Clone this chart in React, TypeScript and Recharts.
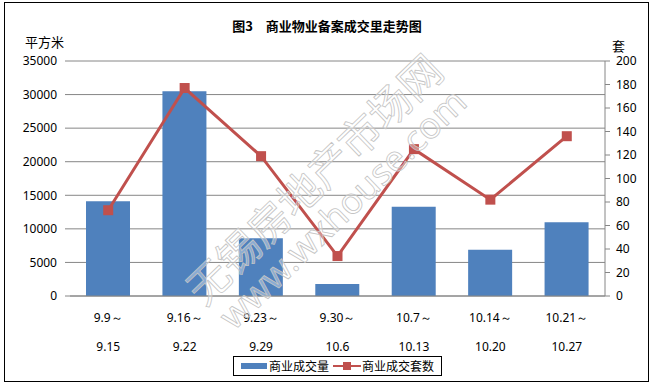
import React from 'react';
import {
  ComposedChart,
  Bar,
  Line,
  XAxis,
  YAxis,
  CartesianGrid,
  Legend,
} from 'recharts';

const weekStart = ['9.9', '9.16', '9.23', '9.30', '10.7', '10.14', '10.21'];
const weekEnd = ['9.15', '9.22', '9.29', '10.6', '10.13', '10.20', '10.27'];
const areaSold = [14100, 30500, 8600, 1800, 13300, 6900, 11000];
const unitsSold = [73, 177, 119, 34, 125, 82, 136];
const leftTicks = [0, 5000, 10000, 15000, 20000, 25000, 30000, 35000];
const rightTicks = [0, 20, 40, 60, 80, 100, 120, 140, 160, 180, 200];

const data = weekStart.map((s, i) => ({
  week: s + '～' + weekEnd[i],
  area: areaSold[i],
  units: unitsSold[i],
}));

const BLUE = '#4f81bd';
const RED = '#c0504d';
const GRID = '#868686';
const NUM_FONT = '"Noto Sans", sans-serif';
const CJK_FONT = '"Noto Sans CJK SC", sans-serif';

const WeekTick = (props: any) => {
  const { x, y, payload } = props;
  const [a, b] = String(payload.value).split('～');
  return (
    <g transform={`translate(${x},${y})`}>
      <text x={0} y={18} textAnchor="middle" fill="#000" fontSize={12} fontFamily={NUM_FONT}>
        {a + '～'}
      </text>
      <text x={0} y={47} textAnchor="middle" fill="#000" fontSize={12} fontFamily={NUM_FONT}>
        {b}
      </text>
    </g>
  );
};

// bar entry first, like the excel legend
const LegendBox = (props: any) => {
  const items = [...(props.payload || [])].sort((a: any, b: any) =>
    a.type === 'rect' ? -1 : b.type === 'rect' ? 1 : 0
  );
  return (
    <div
      style={{
        border: '1px solid #000',
        display: 'flex',
        alignItems: 'center',
        height: 18,
        padding: '0 3px 0 7px',
        background: '#fff',
        fontFamily: CJK_FONT,
        fontSize: 12,
        lineHeight: '18px',
        whiteSpace: 'nowrap',
      }}
    >
      {items.map((p: any) => (
        <div key={p.value} style={{ display: 'flex', alignItems: 'center', marginRight: 4 }}>
          {p.type === 'rect' ? (
            <svg width={27} height={12}>
              <rect x={0} y={3} width={26} height={6} fill={BLUE} />
            </svg>
          ) : (
            <svg width={28} height={12}>
              <line x1={0} y1={6} x2={28} y2={6} stroke={RED} strokeWidth={2} />
              <rect x={10} y={2} width={8} height={8} fill={RED} />
            </svg>
          )}
          <span style={{ marginLeft: 1 }}>{p.value}</span>
        </div>
      ))}
    </div>
  );
};

const SquareDot = (props: any) => {
  const { cx, cy } = props;
  if (cx == null || cy == null) return null;
  return <rect x={cx - 5} y={cy - 5} width={10} height={10} fill={RED} />;
};

export default function App() {
  return (
    <div
      style={{
        position: 'absolute',
        left: 0,
        top: 0,
        width: 654,
        height: 387,
        background: '#fff',
        overflow: 'hidden',
      }}
    >
      <div
        style={{
          position: 'absolute',
          left: 4,
          top: 2,
          width: 645,
          height: 380,
          border: '1px solid #000',
          boxSizing: 'border-box',
        }}
      />
      <div
        style={{
          position: 'absolute',
          left: 0,
          width: 654,
          top: 16,
          textAlign: 'center',
          fontFamily: CJK_FONT,
          fontWeight: 'bold',
          fontSize: 13,
        }}
      >
        图3　商业物业备案成交里走势图
      </div>
      <div style={{ position: 'absolute', left: 25, top: 32, fontFamily: CJK_FONT, fontSize: 13 }}>
        平方米
      </div>
      <div style={{ position: 'absolute', left: 612, top: 36, fontFamily: CJK_FONT, fontSize: 13 }}>
        套
      </div>
      <ComposedChart
        width={654}
        height={387}
        data={data}
        margin={{ top: 61, right: 0, left: 0, bottom: 0 }}
        style={{ position: 'absolute', left: 0, top: 0 }}
      >
        <CartesianGrid vertical={false} stroke={GRID} yAxisId="left" />
        <XAxis
          dataKey="week"
          height={91}
          tickLine={false}
          axisLine={{ stroke: GRID }}
          tick={<WeekTick />}
          interval={0}
        />
        <YAxis
          yAxisId="left"
          orientation="left"
          width={70}
          domain={[0, 35000]}
          ticks={leftTicks}
          axisLine={false}
          tickLine={{ stroke: GRID }}
          tickSize={5}
          tickMargin={8}
          tick={{ fill: '#000', fontSize: 12, fontFamily: NUM_FONT }}
        />
        <YAxis
          yAxisId="right"
          orientation="right"
          width={49}
          domain={[0, 200]}
          ticks={rightTicks}
          axisLine={{ stroke: GRID }}
          tickLine={{ stroke: GRID }}
          tickSize={5}
          tickMargin={6}
          tick={{ fill: '#000', fontSize: 12, fontFamily: NUM_FONT, textAnchor: 'start' }}
        />
        <Legend
          layout="horizontal"
          verticalAlign="middle"
          align="center"
          wrapperStyle={{ top: 356, left: 233, width: 'auto' }}
          content={<LegendBox />}
        />
        <Bar
          yAxisId="left"
          dataKey="area"
          name="商业成交量"
          fill={BLUE}
          barSize={44}
          legendType="rect"
          isAnimationActive={false}
        />
        <Line
          yAxisId="right"
          dataKey="units"
          name="商业成交套数"
          stroke={RED}
          strokeWidth={3}
          dot={<SquareDot />}
          activeDot={false}
          legendType="line"
          isAnimationActive={false}
        />
      </ComposedChart>
      {/* site watermark over the plot */}
      <svg
        width={654}
        height={387}
        style={{ position: 'absolute', left: 0, top: 0, pointerEvents: 'none' }}
      >
        <g transform="rotate(-44 315 180)">
          <text
            x={315}
            y={180}
            dy="0.35em"
            textAnchor="middle"
            fontFamily={CJK_FONT}
            fontSize={42}
            fill="#ffffff"
            fillOpacity={0.35}
            stroke="#c4c4c4"
            strokeWidth={0.8}
          >
            无锡房地产市场网
          </text>
          <text
            x={315}
            y={220}
            dy="0.35em"
            textAnchor="middle"
            fontFamily={NUM_FONT}
            fontSize={36}
            fill="#ffffff"
            fillOpacity={0.35}
            stroke="#c4c4c4"
            strokeWidth={0.8}
          >
            www.wxhouse.com
          </text>
        </g>
      </svg>
    </div>
  );
}
